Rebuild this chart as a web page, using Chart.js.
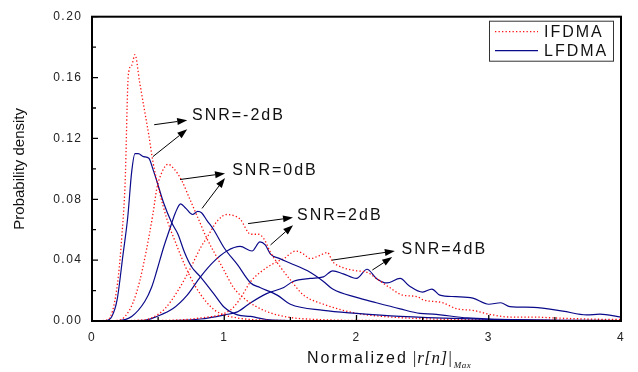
<!DOCTYPE html>
<html>
<head>
<meta charset="utf-8">
<script src="https://cdn.jsdelivr.net/npm/chart.js@4.4.0/dist/chart.umd.min.js"></script>
<style>
  html, body { margin: 0; padding: 0; background: #fff; }
  #wrap { width: 638px; height: 372px; }
</style>
</head>
<body>
<div id="wrap"><canvas id="pdf" width="638" height="372"></canvas></div>
<script>
// normalized |r[n]| positions and probability densities
const ifdmaM2X = [0, 0.1, 0.14, 0.17, 0.2, 0.225, 0.25, 0.275, 0.3, 0.325, 0.36, 0.4, 0.43, 0.46, 0.51, 0.57, 0.63, 0.7, 0.78, 0.86, 0.93, 1.0, 1.1, 1.2, 1.5, 4];
const ifdmaM2Y = [0, 0.0005, 0.003, 0.012, 0.03, 0.055, 0.09, 0.162, 0.168, 0.175, 0.157, 0.137, 0.122, 0.105, 0.085, 0.066, 0.052, 0.037, 0.023, 0.013, 0.007, 0.004, 0.002, 0.001, 0.0003, 0];

const lfdmaM2X = [0, 0.1, 0.15, 0.19, 0.235, 0.27, 0.3, 0.325, 0.35, 0.39, 0.43, 0.46, 0.49, 0.54, 0.6, 0.65, 0.7, 0.75, 0.82, 0.92, 1.0, 1.1, 1.2, 1.32, 1.6, 4];
const lfdmaM2Y = [0, 0.0003, 0.003, 0.014, 0.044, 0.068, 0.098, 0.110, 0.110, 0.108, 0.107, 0.100, 0.092, 0.078, 0.065, 0.057, 0.045, 0.036, 0.029, 0.018, 0.009, 0.004, 0.003, 0.001, 0.0003, 0];

const ifdma0X = [0, 0.2, 0.25, 0.31, 0.36, 0.41, 0.46, 0.49, 0.53, 0.575, 0.62, 0.68, 0.74, 0.79, 0.87, 0.95, 1.0, 1.07, 1.17, 1.3, 1.45, 1.7, 2.2, 4];
const ifdma0Y = [0, 0.0005, 0.003, 0.012, 0.026, 0.046, 0.07, 0.087, 0.098, 0.103, 0.100, 0.092, 0.080, 0.070, 0.054, 0.041, 0.033, 0.022, 0.0135, 0.007, 0.003, 0.001, 0.0003, 0];

const lfdma0X = [0, 0.2, 0.3, 0.4, 0.45, 0.49, 0.54, 0.59, 0.63, 0.67, 0.71, 0.76, 0.8, 0.83, 0.87, 0.92, 1.0, 1.1, 1.2, 1.27, 1.4, 1.5, 1.75, 2.0, 2.33, 2.8, 3.5, 4];
const lfdma0Y = [0, 0.0003, 0.003, 0.013, 0.022, 0.033, 0.048, 0.061, 0.071, 0.077, 0.074, 0.070, 0.072, 0.071, 0.066, 0.060, 0.048, 0.037, 0.025, 0.022, 0.017, 0.011, 0.007, 0.005, 0.003, 0.0015, 0.0005, 0.0003];

const ifdma2X = [0, 0.35, 0.45, 0.55, 0.65, 0.74, 0.82, 0.87, 0.95, 1.02, 1.08, 1.12, 1.2, 1.26, 1.3, 1.35, 1.42, 1.5, 1.6, 1.75, 1.9, 2.0, 2.2, 2.5, 3.0, 4];
const ifdma2Y = [0, 0.0005, 0.002, 0.008, 0.02, 0.034, 0.048, 0.055, 0.066, 0.070, 0.069, 0.067, 0.057, 0.057, 0.054, 0.045, 0.036, 0.027, 0.017, 0.011, 0.007, 0.005, 0.003, 0.0015, 0.0008, 0.0003];

const lfdma2X = [0, 0.4, 0.49, 0.61, 0.72, 0.82, 0.92, 1.02, 1.12, 1.21, 1.27, 1.31, 1.35, 1.42, 1.5, 1.63, 1.75, 1.82, 2.0, 2.15, 2.33, 2.48, 2.58, 2.84, 3.0, 3.5, 4];
const lfdma2Y = [0, 0.0005, 0.003, 0.008, 0.017, 0.029, 0.039, 0.046, 0.049, 0.046, 0.052, 0.050, 0.044, 0.041, 0.038, 0.033, 0.026, 0.021, 0.0155, 0.012, 0.008, 0.005, 0.0045, 0.002, 0.0013, 0.0005, 0.0002];

const ifdma4X = [0, 0.6, 0.82, 1.0, 1.07, 1.13, 1.2, 1.32, 1.4, 1.45, 1.54, 1.6, 1.65, 1.72, 1.78, 1.82, 1.9, 2.0, 2.08, 2.15, 2.25, 2.35, 2.46, 2.5, 2.65, 2.76, 2.88, 3.0, 3.16, 3.34, 3.5, 3.8, 4];
const ifdma4Y = [0, 0.0005, 0.002, 0.005, 0.009, 0.016, 0.026, 0.035, 0.039, 0.041, 0.046, 0.044, 0.041, 0.043, 0.045, 0.039, 0.035, 0.033, 0.032, 0.028, 0.022, 0.017, 0.016, 0.014, 0.012, 0.008, 0.007, 0.0045, 0.0026, 0.0026, 0.002, 0.0012, 0.001];

const lfdma4X = [0, 0.6, 0.82, 1.0, 1.1, 1.2, 1.32, 1.45, 1.52, 1.65, 1.75, 1.82, 1.9, 2.0, 2.08, 2.15, 2.23, 2.33, 2.4, 2.5, 2.57, 2.63, 2.75, 2.88, 3.0, 3.09, 3.16, 3.34, 3.56, 3.74, 3.84, 4];
const lfdma4Y = [0, 0.0003, 0.0013, 0.004, 0.006, 0.012, 0.018, 0.022, 0.026, 0.028, 0.029, 0.033, 0.031, 0.028, 0.034, 0.028, 0.025, 0.028, 0.023, 0.019, 0.021, 0.017, 0.016, 0.015, 0.011, 0.012, 0.0095, 0.009, 0.0065, 0.004, 0.0045, 0.0026];

const xTicks = [0, 1, 2, 3, 4];
const yTicks = [0, 0.04, 0.08, 0.12, 0.16, 0.20];
const xMinor = [0.5, 1.5, 2.5, 3.5];
const yMinor = [0.02, 0.06, 0.10, 0.14, 0.18];

const legendNames = ['IFDMA', 'LFDMA'];
const snrNames = ['SNR=-2dB', 'SNR=0dB', 'SNR=2dB', 'SNR=4dB'];
// label anchor and the two arrows per label, in data units
const snrLabelAt = [[0.756, 0.135], [1.06, 0.099], [1.55, 0.069], [2.34, 0.047]];
const snrArrows = [
  [[0.47, 0.129, 0.72, 0.132], [0.46, 0.108, 0.72, 0.126]],
  [[0.666, 0.093, 1.006, 0.097], [0.832, 0.074, 1.006, 0.094]],
  [[1.18, 0.064, 1.52, 0.068], [1.35, 0.050, 1.52, 0.063]],
  [[1.815, 0.040, 2.29, 0.046], [2.12, 0.0335, 2.27, 0.042]]
];

const RED = '#ff1010';
const BLUE = '#0a0a8a';
const FONT = "'Liberation Sans', Arial, sans-serif";

const pts = (xs, ys) => xs.map((x, i) => ({ x: x, y: ys[i] }));

function ifdma(xs, ys) {
  return { label: 'IFDMA', data: pts(xs, ys), borderColor: RED, borderWidth: 1.3,
    borderDash: [1.3, 2.2], pointRadius: 0, cubicInterpolationMode: 'monotone', fill: false };
}
function lfdma(xs, ys) {
  return { label: 'LFDMA', data: pts(xs, ys), borderColor: BLUE, borderWidth: 1.2,
    pointRadius: 0, cubicInterpolationMode: 'monotone', fill: false };
}

const frame = {
  id: 'frame',
  beforeDraw(chart) {
    chart.ctx.letterSpacing = '1.5px';
  },
  afterDraw(chart) {
    const { ctx, chartArea: a, scales: { x, y } } = chart;
    ctx.save();
    ctx.letterSpacing = '0px';
    ctx.strokeStyle = '#000';
    ctx.lineWidth = 1.3;
    ctx.beginPath();
    xTicks.forEach(v => { const p = x.getPixelForValue(v); ctx.moveTo(p, a.bottom); ctx.lineTo(p, a.bottom - 6); });
    xMinor.forEach(v => { const p = x.getPixelForValue(v); ctx.moveTo(p, a.bottom); ctx.lineTo(p, a.bottom - 4); });
    yTicks.forEach(v => { const p = y.getPixelForValue(v); ctx.moveTo(a.left, p); ctx.lineTo(a.left + 6, p); });
    yMinor.forEach(v => { const p = y.getPixelForValue(v); ctx.moveTo(a.left, p); ctx.lineTo(a.left + 4, p); });
    ctx.stroke();
    ctx.lineWidth = 2;
    ctx.strokeRect(a.left, a.top, a.right - a.left, a.bottom - a.top);

    // arrows and SNR labels
    ctx.fillStyle = '#000';
    ctx.lineWidth = 1;
    snrArrows.forEach(pair => pair.forEach(([x0, y0, x1, y1]) => {
      const p0 = [x.getPixelForValue(x0), y.getPixelForValue(y0)];
      const p1 = [x.getPixelForValue(x1), y.getPixelForValue(y1)];
      const ang = Math.atan2(p1[1] - p0[1], p1[0] - p0[0]);
      const L = 10, W = 3.5;
      const bx = p1[0] - L * Math.cos(ang), by = p1[1] - L * Math.sin(ang);
      ctx.beginPath();
      ctx.moveTo(p0[0], p0[1]);
      ctx.lineTo(bx, by);
      ctx.stroke();
      ctx.beginPath();
      ctx.moveTo(p1[0], p1[1]);
      ctx.lineTo(bx + W * Math.sin(ang), by - W * Math.cos(ang));
      ctx.lineTo(bx - W * Math.sin(ang), by + W * Math.cos(ang));
      ctx.closePath();
      ctx.fill();
    }));
    ctx.font = '16px ' + FONT;
    ctx.letterSpacing = '2px';
    ctx.textAlign = 'left';
    ctx.textBaseline = 'middle';
    ctx.fillStyle = '#111';
    snrNames.forEach((t, i) => {
      ctx.fillText(t, x.getPixelForValue(snrLabelAt[i][0]), y.getPixelForValue(snrLabelAt[i][1]));
    });

    // legend
    const bx = a.right - 132, by = a.top + 4;
    ctx.lineWidth = 1;
    ctx.strokeStyle = '#333';
    ctx.strokeRect(bx + 0.5, by + 0.5, 124, 40);
    [0, 1].forEach(i => {
      const ds = chart.data.datasets[i];
      const ly = by + 11 + i * 19;
      ctx.beginPath();
      ctx.setLineDash(ds.borderDash || []);
      ctx.strokeStyle = ds.borderColor;
      ctx.lineWidth = ds.borderWidth;
      ctx.moveTo(bx + 6, ly);
      ctx.lineTo(bx + 49, ly);
      ctx.stroke();
      ctx.setLineDash([]);
      ctx.fillStyle = '#111';
      ctx.fillText(legendNames[i], bx + 55, ly + 1);
    });

    // axis titles
    ctx.letterSpacing = '0px';
    ctx.save();
    ctx.translate(20, (a.top + a.bottom) / 2);
    ctx.rotate(-Math.PI / 2);
    ctx.textAlign = 'center';
    ctx.font = '15px ' + FONT;
    ctx.fillText('Probability density', 0, 0);
    ctx.restore();

    ctx.textBaseline = 'alphabetic';
    ctx.textAlign = 'left';
    ctx.font = '16px ' + FONT;
    ctx.letterSpacing = '2px';
    let tx = 307;
    const ty = 363;
    ctx.fillText('Normalized', tx, ty);
    tx = 412;
    ctx.letterSpacing = '0.5px';
    ctx.font = "italic 17px 'Liberation Serif', 'Times New Roman', serif";
    ctx.fillText('|r[n]|', tx, ty);
    tx += ctx.measureText('|r[n]|').width + 1;
    ctx.font = "italic 9px 'Liberation Serif', 'Times New Roman', serif";
    ctx.fillText('Max', tx, ty + 5);
    ctx.restore();
  }
};

new Chart(document.getElementById('pdf').getContext('2d'), {
  type: 'line',
  data: {
    datasets: [
      ifdma(ifdmaM2X, ifdmaM2Y),
      lfdma(lfdmaM2X, lfdmaM2Y),
      ifdma(ifdma0X, ifdma0Y),
      lfdma(lfdma0X, lfdma0Y),
      ifdma(ifdma2X, ifdma2Y),
      lfdma(lfdma2X, lfdma2Y),
      ifdma(ifdma4X, ifdma4Y),
      lfdma(lfdma4X, lfdma4Y)
    ]
  },
  options: {
    responsive: false,
    animation: false,
    layout: { padding: { top: 11, right: 17, left: 0, bottom: 0 } },
    plugins: { legend: { display: false }, tooltip: { enabled: false } },
    scales: {
      x: {
        type: 'linear', min: 0, max: 4,
        grid: { display: false, drawTicks: false },
        border: { display: false },
        ticks: { stepSize: 1, padding: 9, color: '#222', font: { family: FONT, size: 12 }, maxRotation: 0 },
        afterFit: s => { s.height = 51; }
      },
      y: {
        min: 0, max: 0.2,
        grid: { display: false, drawTicks: false },
        border: { display: false },
        ticks: { stepSize: 0.04, padding: 9.5, color: '#222', font: { family: FONT, size: 12 },
          callback: v => v.toFixed(2) },
        afterFit: s => { s.width = 92; }
      }
    }
  },
  plugins: [frame]
});
</script>
</body>
</html>
